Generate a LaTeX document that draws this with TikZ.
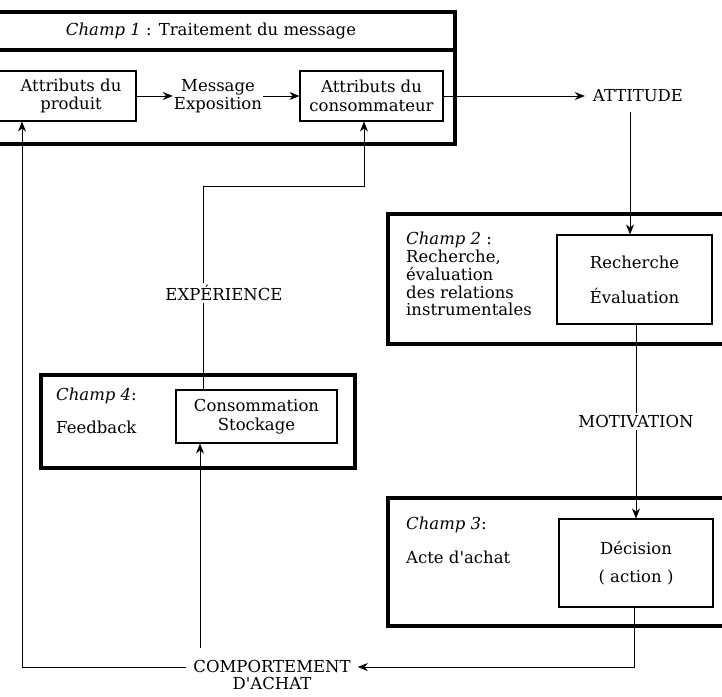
\documentclass[tikz,border=0pt]{standalone}
\usepackage{fontspec}
\setmainfont{DejaVu Serif}[Ligatures=TeXOff]
\usetikzlibrary{arrows.meta}
\begin{document}
\begin{tikzpicture}[x=1pt,y=-1pt,
  every node/.style={font=\fontsize{16.5}{18.5}\selectfont},
  field/.style={line width=3.4pt},
  box/.style={draw, line width=1.1pt, inner sep=0pt},
  txt/.style={align=center, inner sep=1pt},
  lbl/.style={align=left, anchor=west, inner sep=0pt},
  conn/.style={line width=0.8pt},
  arr/.style={conn, -{Stealth[length=10pt,width=8pt]}},
  gap/.style={fill=white, inner sep=2pt}
]
\useasboundingbox (0,0) rectangle (722,696);
% Champ 1
\draw[field] (-10,12) rectangle (455,144);
\draw[field] (-10,50) -- (455,50);
\node[txt] (t1) at (211,31) {\textit{Champ 1} : Traitement du message};
\node[box, minimum width=146pt, minimum height=50pt] (prod) at (63,96) {};
\node[txt] (prodt) at (71,96) {Attributs du\\produit};
\node[txt] (msg) at (218,96) {Message\\Exposition};
\node[box, minimum width=143pt, minimum height=50pt, align=center] (cons) at (371.5,96) {Attributs du\\consommateur};
\node[txt, inner xsep=8pt] (att) at (638,96) {ATTITUDE};
% Champ 2
\draw[field] (388,214) rectangle (740,344);
\node[lbl, anchor=north west, font=\fontsize{16.5}{17.8}\selectfont] (c2) at (406,232) {\textit{Champ 2} :\\Recherche,\\évaluation\\des relations\\instrumentales};
\node[box, minimum width=155pt, minimum height=89pt, align=center, font=\fontsize{16.5}{35}\selectfont] (rech) at (634.5,279.5) {Recherche\\Évaluation};
% Champ 3
\draw[field] (388,498) rectangle (740,626);
\node[lbl] (c3a) at (406,525) {\textit{Champ 3}:};
\node[lbl] (c3b) at (406,557) {Acte d'achat};
\node[box, minimum width=154pt, minimum height=88pt, align=center, font=\fontsize{16.5}{28}\selectfont] (dec) at (636,563) {Décision\\( action )};
% Champ 4
\draw[field] (41,375) rectangle (355,468);
\node[lbl] (c4a) at (56,396) {\textit{Champ 4}:};
\node[lbl] (c4b) at (56,427) {Feedback};
\node[box, minimum width=161pt, minimum height=53pt, align=center] (conso) at (256.5,416.5) {Consommation\\Stockage};
% bottom
\node[txt, inner xsep=7pt, font=\fontsize{16.5}{17}\selectfont] (comp) at (272,675) {COMPORTEMENT\\D'ACHAT};
% coordinates
\coordinate (a1) at (630,112);
\coordinate (d1) at (634,667);
\coordinate (l1) at (22,667);
\coordinate (e1) at (203,186);
\coordinate (e2) at (364,186);
% connectors
\draw[arr] (prod.east |- 0,96) -- (msg.west);
\draw[arr] (msg.east) -- (cons.west);
\draw[arr] (cons.east) -- (att.west);
\draw[arr] (a1) -- (a1 |- rech.north);
\draw[arr] (rech.south -| 636,0) -- node[gap] (mot) {MOTIVATION} (dec.north -| 636,0);
\draw[arr] (dec.south -| d1) -- (d1) -- (comp.east |- d1);
\draw[arr] (comp.west |- l1) -- (l1) -- (l1 |- prod.south);
\draw[arr] (200,648) -- (200,0 |- conso.south);
\draw[arr] (conso.north -| e1) -- (e1) -- (e2) -- (e2 |- cons.south);
\node[gap] (exp) at (224,293) {EXPÉRIENCE};
\end{tikzpicture}
\end{document}
